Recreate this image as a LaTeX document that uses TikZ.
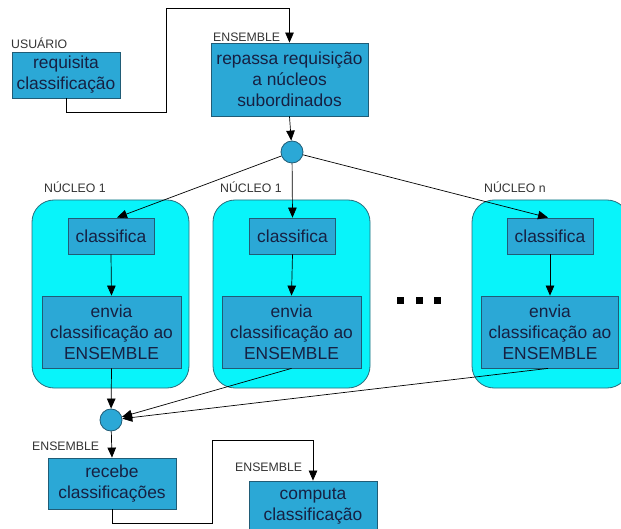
\documentclass[tikz,border=0pt]{standalone}
\usepackage{fontspec}
\setmainfont{Liberation Sans}
\usetikzlibrary{arrows.meta}
\definecolor{boxblue}{RGB}{43,168,214}
\definecolor{boxline}{RGB}{32,92,118}
\definecolor{coreCyan}{RGB}{8,244,250}
\definecolor{coreLine}{RGB}{40,110,125}
\definecolor{boxtext}{RGB}{22,32,66}

\tikzset{
  task/.style={draw=boxline, fill=boxblue, line width=0.8pt, text=boxtext,
    align=center, inner sep=0pt, font=\fontsize{17.4}{21}\selectfont},
  core/.style={draw=coreLine, fill=coreCyan, rounded corners=22pt, line width=0.8pt,
    minimum width=157pt, minimum height=188pt, inner sep=0pt},
  junction/.style={circle, draw=boxline, fill=boxblue, line width=0.8pt,
    minimum size=22pt, inner sep=0pt},
  lbl/.style={font=\fontsize{12.3}{14}\selectfont, text=black!80, inner sep=0pt},
  flow/.style={draw=black, line width=0.7pt, -{Triangle[length=10pt,width=8.5pt]}},
  dotmark/.style={fill=black, minimum size=7pt, inner sep=0pt}
}

\begin{document}
\begin{tikzpicture}[x=1pt,y=-1pt]
\clip (0,0) rectangle (621,529);
\fill[white] (0,0) rectangle (621,529);

% processing cores
\node[core] (k1) at (110.5,294) {};
\node[core] (k2) at (291.5,294) {};
\node[core] (kn) at (550.5,294) {};

% tasks
\node[task, minimum width=108pt, minimum height=46pt] (req) at (66,75) {requisita\\classificação};
\node[task, minimum width=157pt, minimum height=73pt] (rep) at (289.5,79.5) {repassa requisição\\a núcleos\\subordinados};

\node[task, minimum width=86pt, minimum height=36pt] (c1) at (111,236) {classifica};
\node[task, minimum width=86pt, minimum height=36pt] (c2) at (292.5,236) {classifica};
\node[task, minimum width=86pt, minimum height=36pt] (cn) at (550,236) {classifica};

\node[task, minimum width=139pt, minimum height=72pt] (e1) at (111.5,332) {envia\\classificação ao\\ENSEMBLE};
\node[task, minimum width=139pt, minimum height=72pt] (e2) at (291.5,332) {envia\\classificação ao\\ENSEMBLE};
\node[task, minimum width=137pt, minimum height=72pt] (en) at (550,332) {envia\\classificação ao\\ENSEMBLE};

\node[task, minimum width=128pt, minimum height=51pt] (rec) at (112,483.5) {recebe\\classificações};
\node[task, minimum width=128pt, minimum height=51pt] (comp) at (313,506.5) {computa\\classificação};

% junctions
\node[junction] (j1) at (292,152) {};
\node[junction] (j2) at (111,420) {};

% labels
\node[lbl, anchor=south west] (lu) at (11,48.5) {USUÁRIO};
\node[lbl, anchor=south west] (le1) at (213,41.5) {ENSEMBLE};
\node[lbl, anchor=south west] (lk1) at (44,193) {NÚCLEO 1};
\node[lbl, anchor=south west] (lk2) at (220,193) {NÚCLEO 1};
\node[lbl, anchor=south west] (lkn) at (484,193) {NÚCLEO n};
\node[lbl, anchor=south west] (le2) at (32,451) {ENSEMBLE};
\node[lbl, anchor=south west] (le3) at (235,472) {ENSEMBLE};

% ellipsis between cores
\node[dotmark] (d1) at (400.5,300.5) {};
\node[dotmark] (d2) at (419,300.5) {};
\node[dotmark] (d3) at (437.5,300.5) {};

% connectors
\draw[flow] (req.south) |- (166,112) -- (166,8) -| (rep.north);
\draw[flow] (rep.south) -- (j1);
\draw[flow] (j1) -- ([xshift=6pt]c1.north);
\draw[flow] (j1) -- (c2.north);
\draw[flow] (j1) -- ([xshift=-2pt]cn.north);
\draw[flow] (c1.south) -- (e1.north);
\draw[flow] (c2.south) -- (e2.north);
\draw[flow] (cn.south) -- (en.north);
\draw[flow] (e1.south) -- (j2);
\draw[flow] (e2.south) -- (j2);
\draw[flow] ([xshift=-2pt]en.south) -- (j2);
\draw[flow] (j2) -- (rec.north);
\draw[flow] (rec.south) |- (212,523) -- (212,440) -| (comp.north);
\end{tikzpicture}
\end{document}
